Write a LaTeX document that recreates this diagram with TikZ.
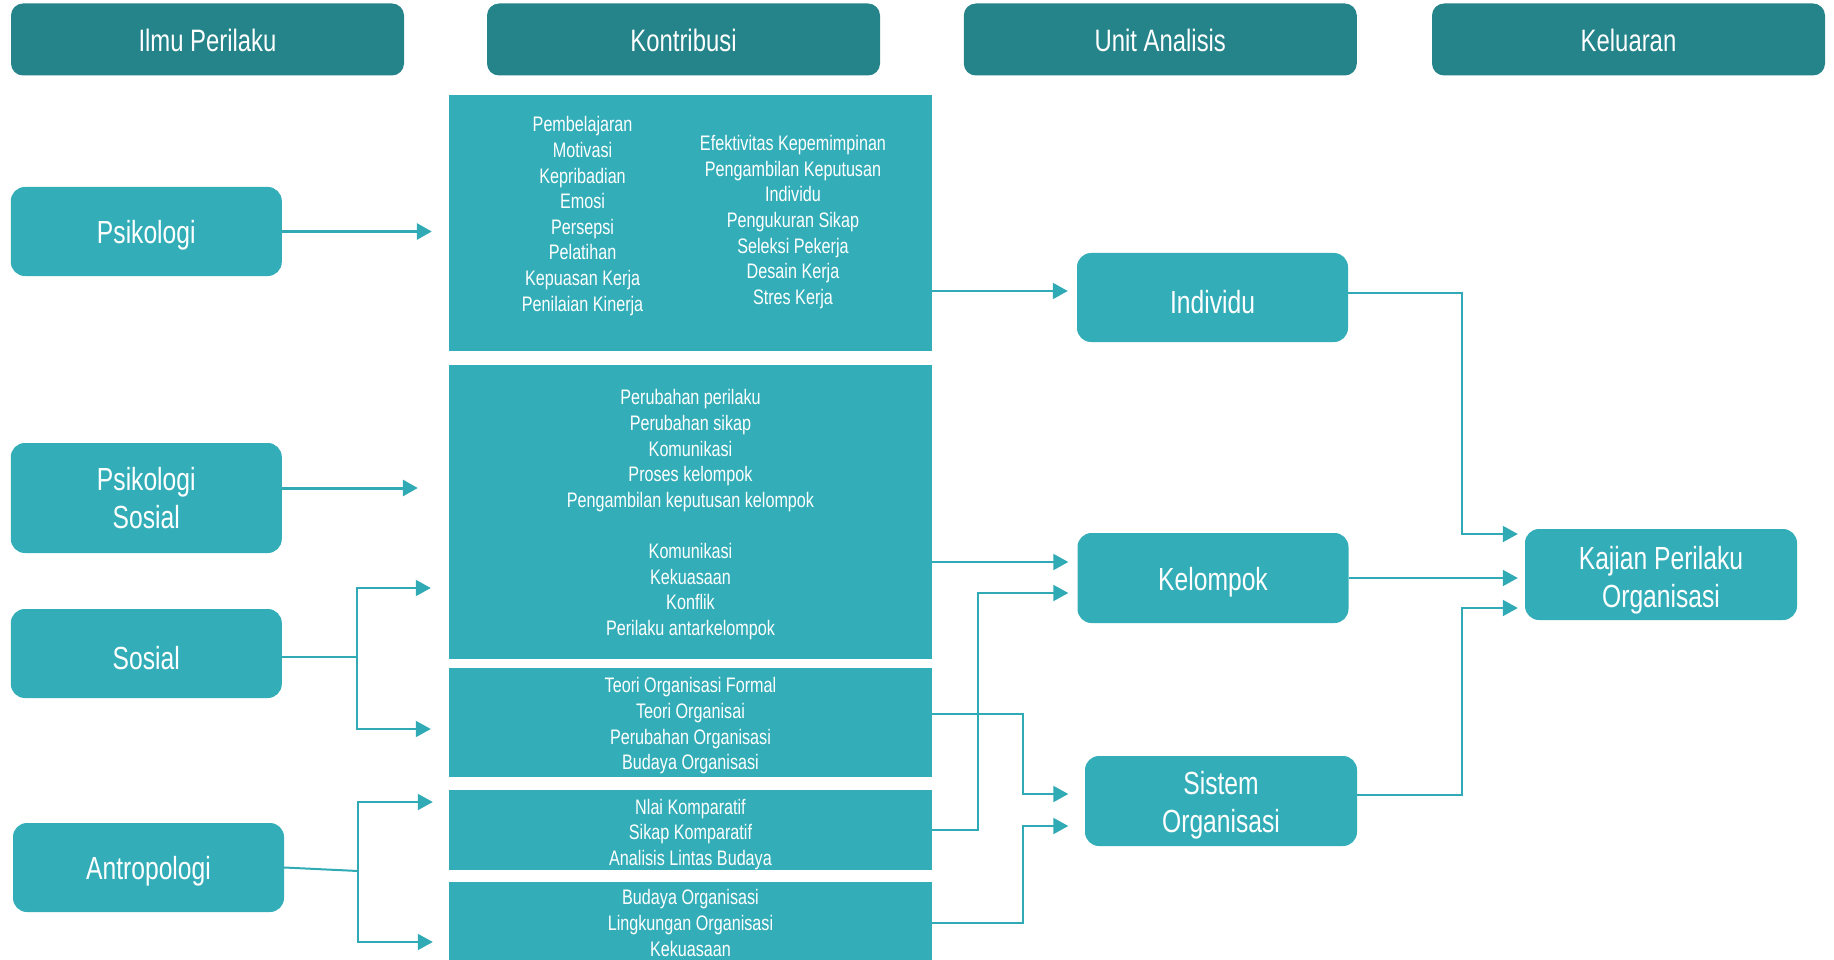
\documentclass[tikz,border=0pt]{standalone}
\usepackage{fontspec}
\setmainfont{Liberation Sans}[FakeStretch=0.77]
\usetikzlibrary{arrows.meta}
\definecolor{hdrc}{RGB}{37,131,138}
\definecolor{boxc}{RGB}{51,174,185}
\definecolor{linec}{RGB}{48,171,181}
\newcommand\topstrut[1]{\rule{0pt}{#1}}
\tikzset{
  hdr/.style={fill=hdrc, rounded corners=12pt, minimum width=393pt, minimum height=72pt, inner sep=0pt, text=white, font=\fontsize{31}{36}\selectfont, execute at begin node={\rule{0pt}{25pt}}},
  sbox/.style={fill=boxc, rounded corners=14pt, minimum width=271pt, minimum height=89pt, inner sep=0pt, text=white, align=center, font=\fontsize{32}{38}\selectfont},
  cbox/.style={fill=boxc, minimum width=483pt, inner sep=0pt, text=white, align=center, font=\fontsize{21}{25.6}\selectfont},
  ctext/.style={inner sep=0pt, text=white, align=center, font=\fontsize{21}{25.6}\selectfont},
  ln/.style={draw=linec, line width=2pt, line join=miter},
  arr/.style={ln, -{Triangle[length=15pt,width=16pt]}},
  arrb/.style={arr, line width=3pt},
}
\begin{document}
\begin{tikzpicture}[x=1pt,y=-1pt]
\useasboundingbox (0,0) rectangle (1834,960);
% headers
\node[hdr] (h1) at (207.5,39.5) {Ilmu Perilaku};
\node[hdr] (h2) at (683.5,39.5) {Kontribusi};
\node[hdr] (h3) at (1160.3,39.5) {Unit Analisis};
\node[hdr] (h4) at (1628.5,39.5) {Keluaran};
% left column
\node[sbox] (psi) at (146.3,231.5) {\topstrut{31.5pt}Psikologi};
\node[sbox, minimum height=110pt] (psis) at (146.3,498) {Psikologi\\Sosial};
\node[sbox] (sos) at (146.3,653.5) {\topstrut{31.5pt}Sosial};
\node[sbox] (ant) at (148.5,867.5) {\topstrut{31.5pt}Antropologi};
% contribution boxes
\node[cbox, minimum height=256pt] (c1) at (690.5,223) {};
\node[ctext] (c1a) at (582.6,216) {Pembelajaran\\Motivasi\\Kepribadian\\Emosi\\Persepsi\\Pelatihan\\Kepuasan Kerja\\Penilaian Kinerja};
\node[ctext] (c1b) at (793,222) {Efektivitas Kepemimpinan\\Pengambilan Keputusan\\Individu\\Pengukuran Sikap\\Seleksi Pekerja\\Desain Kerja\\Stres Kerja};
\node[cbox, minimum height=294pt] (c2) at (690.5,512) {\topstrut{20.5pt}Perubahan perilaku\\Perubahan sikap\\Komunikasi\\Proses kelompok\\Pengambilan keputusan kelompok\\[25.6pt]Komunikasi\\Kekuasaan\\Konflik\\Perilaku antarkelompok};
\node[cbox, minimum height=109pt] (c3) at (690.5,722.5) {\topstrut{22pt}Teori Organisasi Formal\\Teori Organisai\\Perubahan Organisasi\\Budaya Organisasi};
\node[cbox, minimum height=80pt] (c4) at (690.5,830) {\topstrut{24pt}Nlai Komparatif\\Sikap Komparatif\\Analisis Lintas Budaya};
\node[cbox, minimum height=82pt] (c5) at (690.5,923) {Budaya Organisasi\\Lingkungan Organisasi\\Kekuasaan};
% unit boxes
\node[sbox] (ind) at (1212.5,297.5) {\topstrut{31.5pt}Individu};
\node[sbox, minimum height=90pt] (kel) at (1213,578) {\topstrut{31.5pt}Kelompok};
\node[sbox, minimum width=272pt, minimum height=90pt] (sis) at (1221,801) {\topstrut{32pt}Sistem\\Organisasi};
\node[sbox, minimum width=272pt, minimum height=91pt] (kaj) at (1661,574.5) {\topstrut{34pt}Kajian Perilaku\\Organisasi};
% junctions
\coordinate (sJ1) at (357,588);
\coordinate (sJ2) at (357,729);
\coordinate (aJ0) at (358,871);
\coordinate (aJ1) at (358,802);
\coordinate (aJ2) at (358,942);
\coordinate (kJ) at (978,593);
\coordinate (s1J) at (1023,794);
\coordinate (s2J) at (1023,826);
\coordinate (oJ1) at (1462,534);
\coordinate (oJ2) at (1462,608);
% left connectors
\draw[arrb] (psi.east) -- ([xshift=-17pt]psi.east -| c1.west);
\draw[arrb] ([yshift=10pt]psis.east) -- ([yshift=10pt,xshift=-31pt]psis.east -| c2.west);
\draw[ln] ([yshift=-3.5pt]sos.east) -- ([yshift=-3.5pt]sos.east -| sJ1);
\draw[arr] (sJ2) -- (sJ1) -- ([xshift=-18pt]sJ1 -| c2.west);
\draw[arr] (sJ1) -- (sJ2) -- ([xshift=-18pt]sJ2 -| c3.west);
\draw[ln] (ant.east) -- (aJ0);
\draw[arr] (aJ2) -- (aJ1) -- ([xshift=-16pt]aJ1 -| c4.west);
\draw[arr] (aJ1) -- (aJ2) -- ([xshift=-16pt]aJ2 -| c5.west);
% middle connectors
\draw[arr] ([yshift=6.5pt]ind.west -| c1.east) -- ([yshift=6.5pt,xshift=-9pt]ind.west);
\draw[arr] ([yshift=16pt]kel.west -| c2.east) -- ([yshift=16pt,xshift=-9pt]kel.west);
\draw[arr] (c4.east) -- (c4.east -| kJ) -- (kJ) -- ([xshift=-9pt]kJ -| kel.west);
\draw[arr] ([yshift=8.5pt]c3.east) -- ([yshift=8.5pt]c3.east -| s1J) -- (s1J) -- ([xshift=-16.5pt]s1J -| sis.west);
\draw[arr] (c5.east) -- (c5.east -| s2J) -- (s2J) -- ([xshift=-16.5pt]s2J -| sis.west);
% right connectors
\draw[arr] ([yshift=4.5pt]ind.east) -- ([yshift=4.5pt]ind.east -| oJ1) -- (oJ1) -- ([xshift=-7pt]oJ1 -| kaj.west);
\draw[arr] (kel.east) -- ([xshift=-7pt]kel.east -| kaj.west);
\draw[arr] ([yshift=6pt]sis.east) -- ([yshift=6pt]sis.east -| oJ2) -- (oJ2) -- ([xshift=-7pt]oJ2 -| kaj.west);
\end{tikzpicture}
\end{document}
